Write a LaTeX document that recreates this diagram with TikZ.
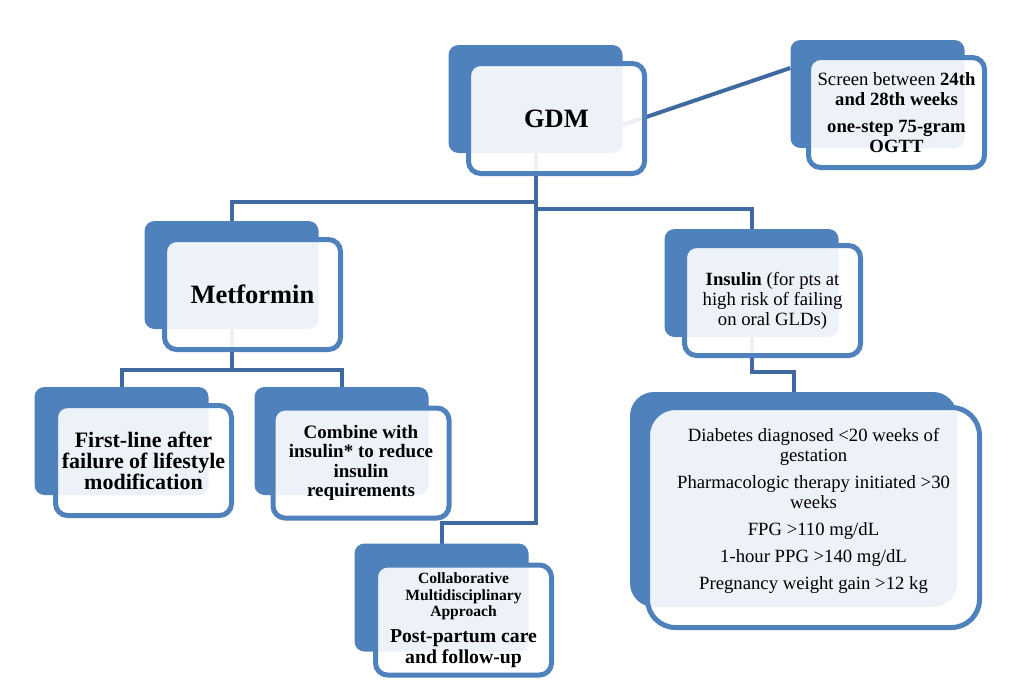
\documentclass[tikz,border=0pt]{standalone}
\usepackage{fontspec}
\setmainfont{Liberation Serif}
\usetikzlibrary{backgrounds}
\definecolor{boxblue}{HTML}{4F81BD}
\definecolor{linkblue}{HTML}{3E6A9F}
\tikzset{
  backbox/.style={fill=boxblue, rounded corners=10pt, minimum width=174pt,
                  minimum height=108pt, inner sep=0pt},
  frontbox/.style={draw=boxblue, line width=5pt, fill=white, fill opacity=0.9,
                   text opacity=1, rounded corners=12pt, minimum width=176pt,
                   minimum height=110pt, inner sep=2pt, align=center},
  critback/.style={backbox, rounded corners=24pt, minimum width=327pt, minimum height=215pt},
  critfront/.style={frontbox, rounded corners=28pt, minimum width=332pt, minimum height=220pt},
  link/.style={draw=linkblue, line width=4pt},
  titletext/.style={font=\bfseries\fontsize{26.5}{30}\selectfont},
  boldtext/.style={font=\bfseries\fontsize{22}{21}\selectfont},
  plaintext/.style={font=\fontsize{18.7}{20}\selectfont},
}

\begin{document}
\begin{tikzpicture}[x=1pt, y=-1pt]
    \useasboundingbox (0,0) rectangle (1022,696);
    \node[backbox] (gdmback) at (535.5,99) {};
    \node[backbox] (screenback) at (877.5,94) {};
    \node[backbox] (metback) at (231.5,275) {};
    \node[backbox] (insback) at (751.5,283) {};
    \node[backbox] (firstback) at (121.5,441) {};
    \node[backbox] (combback) at (341.5,441) {};
    \node[backbox] (colback) at (441.5,597.5) {};
    \node[critback] (critback) at (793.5,499.5) {};
    \begin{scope}[on background layer]
      \fill[white] (0,0) rectangle (1022,696);
      \draw[link] (gdmback.center) -- ++(0,103) -| (metback.center);
      \draw[link] (gdmback.center) -- ++(0,110) -| (insback.center);
      \draw[link] (gdmback.center) -- ++(0,424) -| (colback.center);
      \draw[link] (metback.center) -- ++(0,95) -| (firstback.center);
      \draw[link] (metback.center) -- ++(0,95) -| (combback.center);
      \draw[link] (insback.center) -- ++(0,89) -| (critback.center);
      \draw[link] ([yshift=-26pt]gdmback.east) -- ([yshift=26pt]screenback.west);
    \end{scope}
    \node[frontbox, titletext] (gdm) at (556.5,118.5) {GDM};
    \node[frontbox, plaintext] (screen) at (896.5,112.5)
      {Screen between \textbf{24th}\\\textbf{and 28th weeks}\\[7pt]\textbf{one-step 75-gram}\\\textbf{OGTT}};
    \node[frontbox, titletext] (met) at (252.5,294.5) {Metformin};
    \node[frontbox, plaintext] (ins) at (772.5,300.5)
      {\textbf{Insulin} (for pts at\\high risk of failing\\on oral GLDs)};
    \node[frontbox, boldtext] (first) at (143.5,460.5)
      {First-line after\\failure of lifestyle\\modification};
    \node[frontbox, boldtext, font=\bfseries\fontsize{19}{19.5}\selectfont] (comb) at (361,463)
      {Combine with\\insulin* to reduce\\insulin\\requirements};
    \node[frontbox, font=\bfseries\fontsize{15.6}{16.5}\selectfont] (col) at (463.5,620)
      {Collaborative\\Multidisciplinary\\Approach\\[9pt]{\fontsize{19.7}{18}\selectfont Post-partum care}\\[2pt]{\fontsize{19.7}{18}\selectfont and follow-up}};
    \node[critfront] (crit) at (813.5,517.5) {};
    \node[plaintext, align=center] (crittext) at (813.5,510.5)
      {Diabetes diagnosed <20 weeks of\\gestation\\[7pt]Pharmacologic therapy initiated >30\\weeks\\[7pt]FPG >110 mg/dL\\[7pt]1-hour PPG >140 mg/dL\\[7pt]Pregnancy weight gain >12 kg};
\end{tikzpicture}
\end{document}
